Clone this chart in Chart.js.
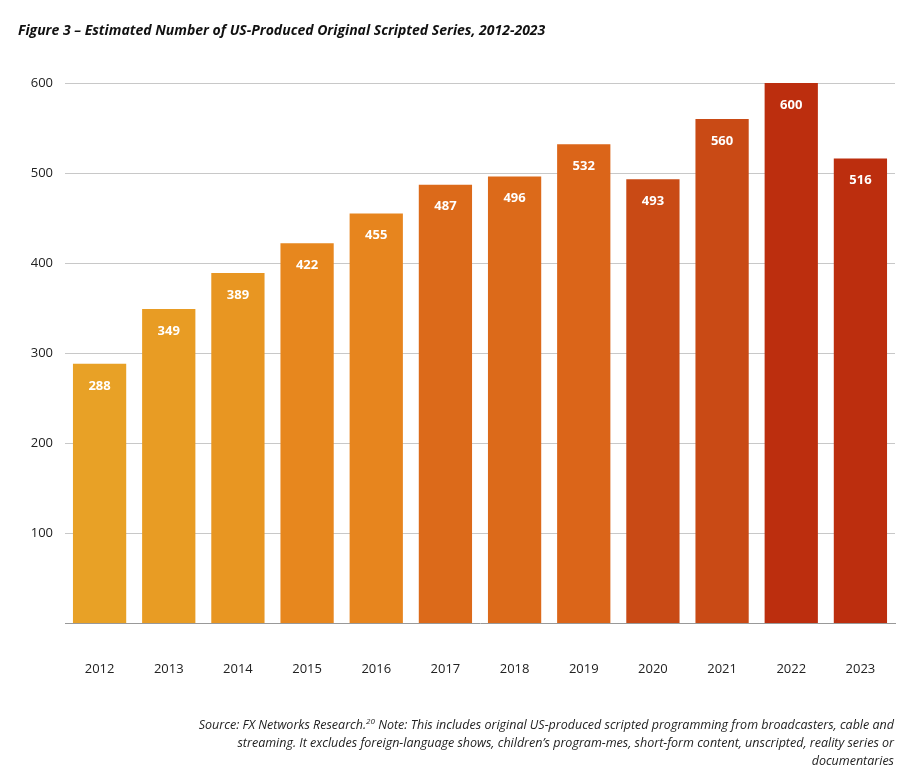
<!DOCTYPE html>
<html>
<head>
<meta charset="utf-8">
<script src="https://cdn.jsdelivr.net/npm/chart.js@4"></script>
<style>
  body { margin: 0; background: #fff; font-family: "Open Sans", sans-serif; }
  #wrap { position: relative; width: 922px; height: 778px; }
  #title { position: absolute; left: 18px; top: 20px; font-size: 14px; font-weight: bold; font-style: italic; color: #111; }
  #note { position: absolute; right: 28px; top: 712px; width: 720px; text-align: right; font-size: 12.5px; font-style: italic; color: #222; line-height: 18px; }
  canvas { position: absolute; left: 0; top: 0; }
</style>
</head>
<body>
<div id="wrap">
  <canvas id="chart" width="922" height="778"></canvas>
  <div id="title">Figure 3 – Estimated Number of US-Produced Original Scripted Series, 2012-2023</div>
  <div id="note">Source: FX Networks Research.<sup style="font-size:8px">20</sup> Note: This includes original US-produced scripted programming from broadcasters, cable and streaming. It excludes foreign-language shows, children’s program-mes, short-form content, unscripted, reality series or documentaries</div>
</div>
<script>
// Chart data
const years = ['2012','2013','2014','2015','2016','2017','2018','2019','2020','2021','2022','2023'];
const seriesCounts = [288, 349, 389, 422, 455, 487, 496, 532, 493, 560, 600, 516];
const barColors = ['#E8A126','#E89C24','#E89622','#E7871E','#E7851E','#DC6A1A','#DC6A1A','#DB6519','#C94A15','#C94A15','#BC2E0E','#BC2E0E'];
const yTicks = [100, 200, 300, 400, 500, 600];

// white value labels inside top of bars
const barLabels = {
  id: 'barLabels',
  afterDatasetsDraw(chart) {
    const ctx = chart.ctx;
    ctx.save();
    ctx.fillStyle = '#fff';
    ctx.font = 'bold 13px "Open Sans", sans-serif';
    ctx.textAlign = 'center';
    ctx.textBaseline = 'middle';
    chart.getDatasetMeta(0).data.forEach((bar, i) => {
      ctx.fillText(seriesCounts[i], bar.x, bar.y + 22);
    });
    ctx.restore();
  }
};

new Chart(document.getElementById('chart'), {
  type: 'bar',
  data: {
    labels: years,
    datasets: [{ data: seriesCounts, backgroundColor: barColors, barPercentage: 0.77, categoryPercentage: 1 }]
  },
  options: {
    responsive: false,
    animation: false,
    layout: { padding: { top: 83, bottom: 95, right: 27, left: 0 } },
    plugins: { legend: { display: false }, tooltip: { enabled: false } },
    scales: {
      x: {
        grid: { display: false },
        border: { color: '#999', width: 1 },
        ticks: { color: '#222', font: { size: 13, family: '"Open Sans", sans-serif' }, padding: 30 },
        afterFit(axis) { axis.height = 60; }
      },
      y: {
        min: 0, max: 600,
        afterBuildTicks(axis) { axis.ticks = yTicks.map(v => ({ value: v })); },
        grid: { color: '#c8c8c8', drawTicks: false },
        border: { display: false },
        ticks: { color: '#222', font: { size: 13, family: '"Open Sans", sans-serif' }, padding: 12 },
        afterFit(axis) { axis.width = 65; }
      }
    }
  },
  plugins: [barLabels]
});
</script>
</body>
</html>
